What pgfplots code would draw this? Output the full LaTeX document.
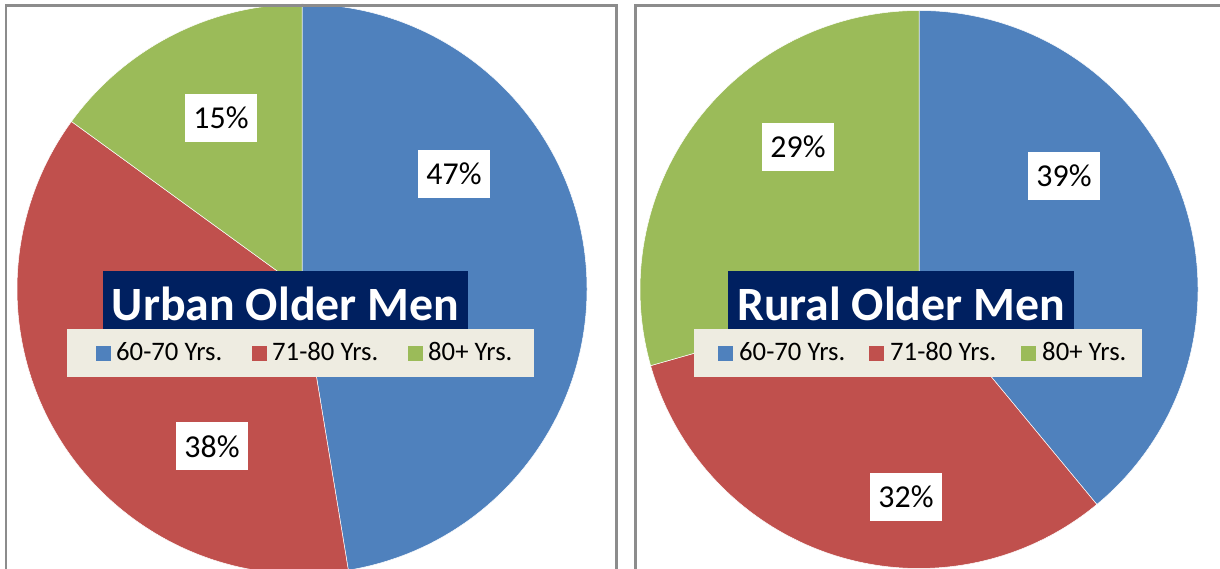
\documentclass[border=0pt]{standalone}
\usepackage{pgfplots}
\pgfplotsset{compat=1.18}
\usepackage{fontspec}
\setmainfont{Carlito}
\definecolor{pieblue}{HTML}{4F81BD}
\definecolor{piered}{HTML}{C0504D}
\definecolor{piegreen}{HTML}{9BBB59}
\definecolor{titlenavy}{HTML}{002060}
\definecolor{legbg}{HTML}{EEECE1}
\definecolor{framegray}{HTML}{8C8C8C}
% \sector{cx}{cy}{r}{start percent}{percent}{colour}
\newcommand{\sector}[6]{%
  \filldraw[fill=#6, draw=white, line width=0.5bp] (axis cs:#1,#2) -- ++({90-3.6*#4}:#3bp)
    arc[start angle={90-3.6*#4}, end angle={90-3.6*(#4+#5)}, radius=#3bp] -- cycle;}
\tikzset{
  pctfont/.style={font=\fontsize{32}{36}\selectfont, inner sep=0pt, anchor=base},
  legfont/.style={font=\fontsize{26.8}{30}\selectfont, inner sep=0pt, anchor=base west},
  titlefont/.style={font=\bfseries\fontsize{48}{56}\selectfont, text=white, inner sep=0pt, anchor=base},
}
\begin{document}
\begin{tikzpicture}
\useasboundingbox (0,0) rectangle (1220bp,569bp);
\clip (0,0) rectangle (1220bp,569bp);
% ---------------- Urban Older Men ----------------
\begin{axis}[at={(0,0)}, anchor=south west, scale only axis,
  width=626bp, height=569bp, xmin=0, xmax=626, ymin=0, ymax=569,
  hide axis, clip=true]
  % data: 60-70 Yrs. 47.4, 71-80 Yrs. 37.6, 80+ Yrs. 15.0
  \sector{302}{280}{285}{0}{47.4}{pieblue}
  \sector{302}{280}{285}{47.4}{37.6}{piered}
  \sector{302}{280}{285}{85}{15}{piegreen}
  % value labels
  \fill[white] (axis cs:185,427) rectangle (axis cs:257,475);
  \node[pctfont] at (axis cs:221,440) {15\%};
  \fill[white] (axis cs:418,371) rectangle (axis cs:490,419);
  \node[pctfont] at (axis cs:454,384) {47\%};
  \fill[white] (axis cs:176,99) rectangle (axis cs:248,147);
  \node[pctfont] at (axis cs:212,111) {38\%};
  % title
  \fill[titlenavy] (axis cs:103,240) rectangle (axis cs:468,298);
  \node[titlefont] at (axis cs:285.5,248) {Urban Older Men};
  % legend
  \fill[legbg] (axis cs:67,192) rectangle (axis cs:534,240);
  \fill[pieblue] (axis cs:96,208) rectangle (axis cs:111,223);
  \node[legfont] at (axis cs:116,208) {60-70 Yrs.};
  \fill[piered] (axis cs:252,208) rectangle (axis cs:267,223);
  \node[legfont] at (axis cs:272,208) {71-80 Yrs.};
  \fill[piegreen] (axis cs:408,208) rectangle (axis cs:423,223);
  \node[legfont] at (axis cs:428,208) {80+ Yrs.};
  % frame
  \draw[framegray, line width=2.5bp] (axis cs:6.2,-20) -- (axis cs:6.2,563.6) -- (axis cs:616.5,563.6) -- (axis cs:616.5,-20);
\end{axis}
% ---------------- Rural Older Men ----------------
\begin{axis}[at={(626bp,0)}, anchor=south west, scale only axis,
  width=594bp, height=569bp, xmin=626, xmax=1220, ymin=0, ymax=569,
  hide axis, clip=true]
  % data: 60-70 Yrs. 39.0, 71-80 Yrs. 31.6, 80+ Yrs. 29.4
  \sector{919}{279.5}{279}{0}{39}{pieblue}
  \sector{919}{279.5}{279}{39}{31.6}{piered}
  \sector{919}{279.5}{279}{70.6}{29.4}{piegreen}
  % value labels
  \fill[white] (axis cs:762,398) rectangle (axis cs:834,446);
  \node[pctfont] at (axis cs:798,411) {29\%};
  \fill[white] (axis cs:1028,369) rectangle (axis cs:1100,417);
  \node[pctfont] at (axis cs:1064,382) {39\%};
  \fill[white] (axis cs:870,48) rectangle (axis cs:942,96);
  \node[pctfont] at (axis cs:906,61) {32\%};
  % title
  \fill[titlenavy] (axis cs:728,240) rectangle (axis cs:1074,298);
  \node[titlefont] at (axis cs:901,248) {Rural Older Men};
  % legend
  \fill[legbg] (axis cs:694,192) rectangle (axis cs:1142,240);
  \fill[pieblue] (axis cs:718,208) rectangle (axis cs:733,223);
  \node[legfont] at (axis cs:739,208) {60-70 Yrs.};
  \fill[piered] (axis cs:869,208) rectangle (axis cs:884,223);
  \node[legfont] at (axis cs:890,208) {71-80 Yrs.};
  \fill[piegreen] (axis cs:1021,208) rectangle (axis cs:1036,223);
  \node[legfont] at (axis cs:1042,208) {80+ Yrs.};
  % frame
  \draw[framegray, line width=2.5bp] (axis cs:635.7,-20) -- (axis cs:635.7,563.6) -- (axis cs:1240,563.6);
\end{axis}
\end{tikzpicture}
\end{document}
